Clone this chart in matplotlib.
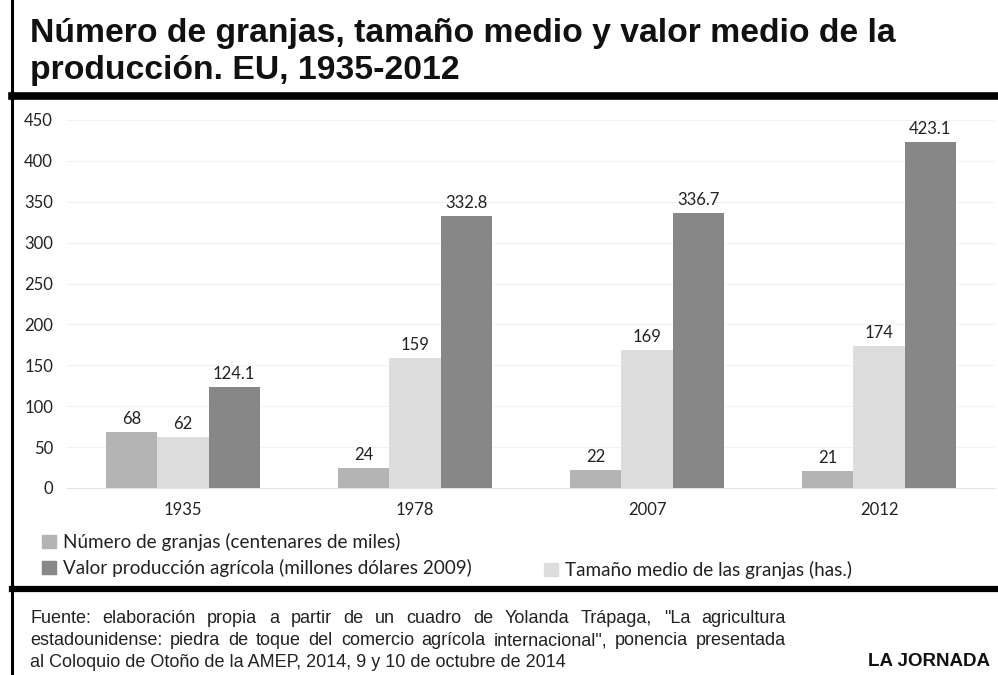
import matplotlib.pyplot as plt
import numpy as np
from matplotlib.lines import Line2D
from matplotlib.patches import Patch

years = ['1935', '1978', '2007', '2012']
num_granjas = [68, 24, 22, 21]
tamano_medio = [62, 159, 169, 174]
valor_produccion = [124.1, 332.8, 336.7, 423.1]
value_labels = [
    ['68', '24', '22', '21'],
    ['62', '159', '169', '174'],
    ['124.1', '332.8', '336.7', '423.1'],
]
series_names = [
    'Número de granjas (centenares de miles)',
    'Tamaño medio de las granjas (has.)',
    'Valor producción agrícola (millones dólares 2009)',
]
colors = ['#b4b4b4', '#dddddd', '#878787']

title = 'Número de granjas, tamaño medio y valor medio de la\nproducción. EU, 1935-2012'
source_lines = [
    'Fuente: elaboración propia a partir de un cuadro de Yolanda Trápaga, "La agricultura',
    'estadounidense: piedra de toque del comercio agrícola internacional", ponencia presentada',
    'al Coloquio de Otoño de la AMEP, 2014, 9 y 10 de octubre de 2014',
]

W, H = 998, 675
fig = plt.figure(figsize=(W / 100, H / 100), dpi=100)
body_font = 'Lato'
head_font = 'Liberation Sans'

def fx(px):
    return px / W

def fy(py):
    return 1 - py / H

def justified(text, x0, x1, y, **kw):
    # spread the words of one line so it fills x0..x1 (pixels)
    renderer = fig.canvas.get_renderer()
    words = text.split(' ')
    widths = []
    for w in words:
        t = fig.text(0, 0, w, **kw)
        widths.append(t.get_window_extent(renderer).width)
        t.remove()
    gap = max((x1 - x0 - sum(widths)) / (len(words) - 1), 3)
    xp = x0
    for w, wd in zip(words, widths):
        fig.text(fx(xp), y, w, **kw)
        xp += wd + gap

# frame lines
fig.add_artist(Line2D([fx(12), fx(12)], [0, 1], color='black', lw=2.2))
fig.add_artist(Line2D([fx(12), 1], [fy(95.5), fy(95.5)], color='black', lw=5.5))
fig.add_artist(Line2D([fx(12), 1], [fy(589), fy(589)], color='black', lw=4.5))

fig.text(fx(30), fy(18), title, ha='left', va='top', fontsize=24.3, fontweight='bold',
         family=head_font, linespacing=1.25, color='#111111')

ax = fig.add_axes([fx(67), fy(488), fx(995) - fx(67), fy(120) - fy(488)])
x = np.arange(len(years))
width = 0.22
data = [num_granjas, tamano_medio, valor_produccion]
for i, vals in enumerate(data):
    pos = x + (i - 1) * width
    ax.bar(pos, vals, width=width, color=colors[i], zorder=3, label=series_names[i])
    for xp, v, lab in zip(pos, vals, value_labels[i]):
        ax.text(xp, v + 6, lab, ha='center', va='bottom', fontsize=12,
                family=body_font, color='#222222')

ax.set_xlim(-0.5, len(years) - 0.5)
ax.set_ylim(0, 450)
ax.set_yticks(np.arange(0, 451, 50))
ax.set_xticks(x)
ax.set_xticklabels(years)
ax.grid(axis='y', color='#f2f2f2', lw=0.8, zorder=0)
for s in ['top', 'right', 'left']:
    ax.spines[s].set_visible(False)
ax.spines['bottom'].set_color('#e4e4e4')
ax.tick_params(axis='both', length=0, labelsize=12, labelcolor='#222222', pad=10)
for t in ax.get_xticklabels() + ax.get_yticklabels():
    t.set_family(body_font)

legend_kw = dict(loc='upper left', frameon=False, prop={'family': body_font, 'size': 13.6},
                 handlelength=0.75, handleheight=0.75, handletextpad=0.35,
                 borderaxespad=0, borderpad=0, labelcolor='#222222')
fig.legend(handles=[Patch(color=colors[0], label=series_names[0]),
                    Patch(color=colors[2], label=series_names[2])],
           bbox_to_anchor=(fx(42), fy(533)), labelspacing=0.42, **legend_kw)
fig.legend(handles=[Patch(color=colors[1], label=series_names[1])],
           bbox_to_anchor=(fx(544), fy(561)), **legend_kw)

foot_kw = dict(ha='left', va='baseline', fontsize=13, family=head_font, color='#222222')
justified(source_lines[0], 30, 786, fy(623), **foot_kw)
justified(source_lines[1], 30, 786, fy(645), **foot_kw)
fig.text(fx(30), fy(667), source_lines[2], **foot_kw)
fig.text(fx(990), fy(661), 'LA JORNADA', ha='right', va='center', fontsize=13.5,
         fontweight='bold', family=head_font, color='#111111')

fig.savefig('out.png', dpi=100)
